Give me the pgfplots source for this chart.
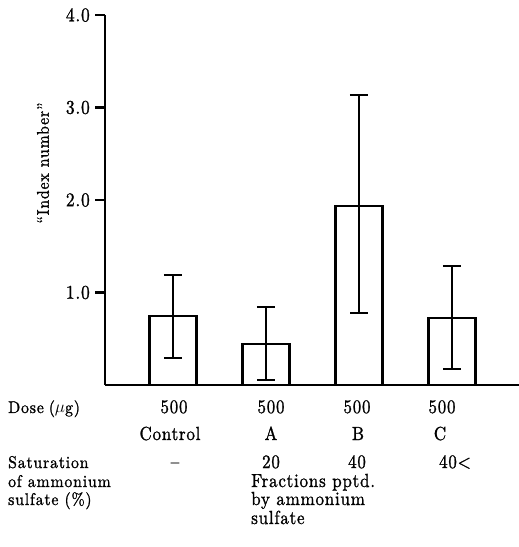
\documentclass[border=0pt]{standalone}
\usepackage{fontspec}
\newfontfamily\bigf{lmroman10-regular.otf}[LetterSpace=4, FakeStretch=0.9, FakeBold=1.2, Ligatures=TeX]
\newfontfamily\smallf{lmroman10-regular.otf}[LetterSpace=5, FakeStretch=0.93, FakeBold=1.2, Ligatures=TeX]
\usepackage{pgfplots}
\pgfplotsset{compat=1.18}
\begin{document}
\begin{tikzpicture}[x=1bp,y=1bp]
\begin{axis}[
  at={(0,0)}, anchor=south west,
  x=93bp, y=92.5bp,
  xmin=-0.731, xmax=3.72, ymin=0, ymax=4,
  axis x line=bottom, axis y line=left,
  axis line style={-, line width=2.2bp, black},
  xtick=\empty,
  ytick={1,2,3,4},
  tick align=outside,
  major tick length=10bp,
  tick style={line width=2.2bp, black},
  yticklabel style={font=\fontsize{19.5}{22}\selectfont\bigf, inner sep=0pt, xshift=-5bp,
    /pgf/number format/.cd, fixed, fixed zerofill, precision=1, assume math mode=true},
  clip=false,
  ybar, bar width=47bp, bar shift=0pt,
]
\addplot[draw=black, fill=white, line width=2.2bp,
  error bars/.cd, y dir=both, y explicit,
  error bar style={line width=2.2bp, black},
  error mark options={rotate=90, mark size=9bp, line width=2.2bp, black}]
coordinates {
  (0,0.746) += (0,0.444) -= (0,0.451)
  (1,0.44)  += (0,0.40)  -= (0,0.386)
  (2,1.935) += (0,1.20)  -= (0,1.155)
  (3,0.72)  += (0,0.566) -= (0,0.547)
};
\end{axis}
\begin{scope}[every node/.style={inner sep=0pt, font=\fontsize{19}{22}\selectfont\bigf},
  sm/.style={font=\fontsize{17}{20}\selectfont\smallf}]
\node[sm, rotate=90] at (-62,222) {“Index number”};
\node[sm, anchor=base west] at (-97,-28) {Dose\hspace{5bp}($\mu$g)};
\node[anchor=base] at (69,-28) {500};
\node[anchor=base] at (166,-28) {500};
\node[anchor=base] at (252,-28) {500};
\node[anchor=base] at (337,-28) {500};
\node[anchor=base] at (65,-55) {Control};
\node[anchor=base] at (166,-55) {A};
\node[anchor=base] at (253,-55) {B};
\node[anchor=base] at (335,-55) {C};
\node[sm, anchor=base west] at (-97,-83) {Saturation};
\node[anchor=base] at (70,-83) {–};
\node[anchor=base] at (166,-83) {20};
\node[anchor=base] at (252,-83) {40};
\node[anchor=base] at (350,-83) {40<};
\node[sm, anchor=base west] at (-97,-102) {of ammonium};
\node[sm, anchor=base west] at (-97,-120) {sulfate (\%)};
\node[anchor=base west] at (146,-102) {Fractions pptd.};
\node[anchor=base west] at (146,-120) {by ammonium};
\node[anchor=base west] at (146,-139) {sulfate};
\end{scope}
\pgfresetboundingbox
\path[use as bounding box] (-105,-162) rectangle (414,385);
\end{tikzpicture}
\end{document}
